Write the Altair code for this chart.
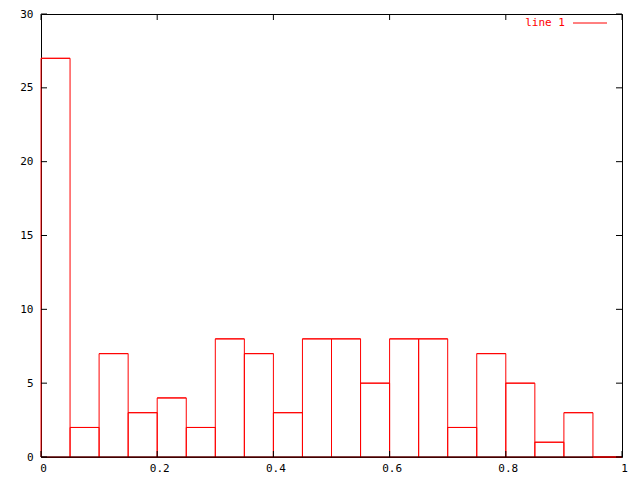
import altair as alt
import pandas as pd

# Data
bin_start = [0.00, 0.05, 0.10, 0.15, 0.20, 0.25, 0.30, 0.35, 0.40, 0.45,
             0.50, 0.55, 0.60, 0.65, 0.70, 0.75, 0.80, 0.85, 0.90, 0.95]
counts = [27, 2, 7, 3, 4, 2, 8, 7, 3, 8, 8, 5, 8, 8, 2, 7, 5, 1, 3, 0]
bin_width = 0.05
x_ticks = [0, 0.2, 0.4, 0.6, 0.8, 1.0]
y_ticks = [0, 5, 10, 15, 20, 25, 30]
legend_label = ["line 1"]

W, H = 581, 443
FONT = "DejaVu Sans Mono"
FS = 11
TICK = 6

df = pd.DataFrame({"start": bin_start, "count": counts})
df["end"] = df["start"] + bin_width
xdf = pd.DataFrame({"v": x_ticks})
ydf = pd.DataFrame({"v": y_ticks})

xs = alt.Scale(domain=[0, 1], nice=False, zero=False)
ys = alt.Scale(domain=[0, 30], nice=False)
xax = alt.Axis(values=x_ticks, format="~g", title=None, grid=False,
               domain=False, ticks=False, labelPadding=5, labelOffset=2,
               labelFlush=False)
yax = alt.Axis(values=y_ticks, format="d", title=None, grid=False,
               domain=False, ticks=False, labelPadding=8, labelFlush=False)


def X(f):
    return alt.X(f, scale=xs, axis=xax)


def Y(f):
    return alt.Y(f, scale=ys, axis=yax)


bars = alt.Chart(df).mark_rect(fillOpacity=0, stroke="red", strokeWidth=1).encode(
    x=X("start:Q"), x2="end:Q", y=Y("count:Q"), y2=alt.datum(0),
)

baseline = alt.Chart(pd.DataFrame({"v": [0]})).mark_rule(color="black", strokeWidth=1).encode(
    y=Y("v:Q"), x=alt.value(0), x2=alt.value(W)
)

tops = alt.Chart(df).mark_rule(color="red", strokeWidth=1).encode(
    x=X("start:Q"), x2="end:Q", y=Y("count:Q")
)

left_ticks = alt.Chart(ydf).mark_rule(color="black").encode(
    y=Y("v:Q"), x=alt.value(0), x2=alt.value(TICK))
right_ticks = alt.Chart(ydf).mark_rule(color="black").encode(
    y=Y("v:Q"), x=alt.value(W - TICK), x2=alt.value(W))
bottom_ticks = alt.Chart(xdf).mark_rule(color="black").encode(
    x=X("v:Q"), y=alt.value(H - TICK), y2=alt.value(H))
top_ticks = alt.Chart(xdf).mark_rule(color="black").encode(
    x=X("v:Q"), y=alt.value(0), y2=alt.value(TICK))

leg_text = alt.Chart(pd.DataFrame({"t": legend_label})).mark_text(
    color="red", align="right", baseline="middle", font=FONT, fontSize=FS
).encode(x=alt.value(524), y=alt.value(9), text="t:N")
leg_line = alt.Chart(pd.DataFrame({"t": legend_label})).mark_rule(color="red").encode(
    x=alt.value(532), x2=alt.value(566), y=alt.value(9))

chart = alt.layer(
    bars, baseline, tops, left_ticks, right_ticks, bottom_ticks, top_ticks,
    leg_text, leg_line
).properties(
    width=W, height=H,
    autosize=alt.AutoSizeParams(type="none"),
    padding={"left": 33, "top": 6, "right": 10, "bottom": 20},
).configure_view(
    stroke="black", strokeWidth=1
).configure_axis(
    labelFont=FONT, labelFontSize=FS, labelColor="black"
)

chart.save("out.html", embed_options={"renderer": "svg", "actions": False})
